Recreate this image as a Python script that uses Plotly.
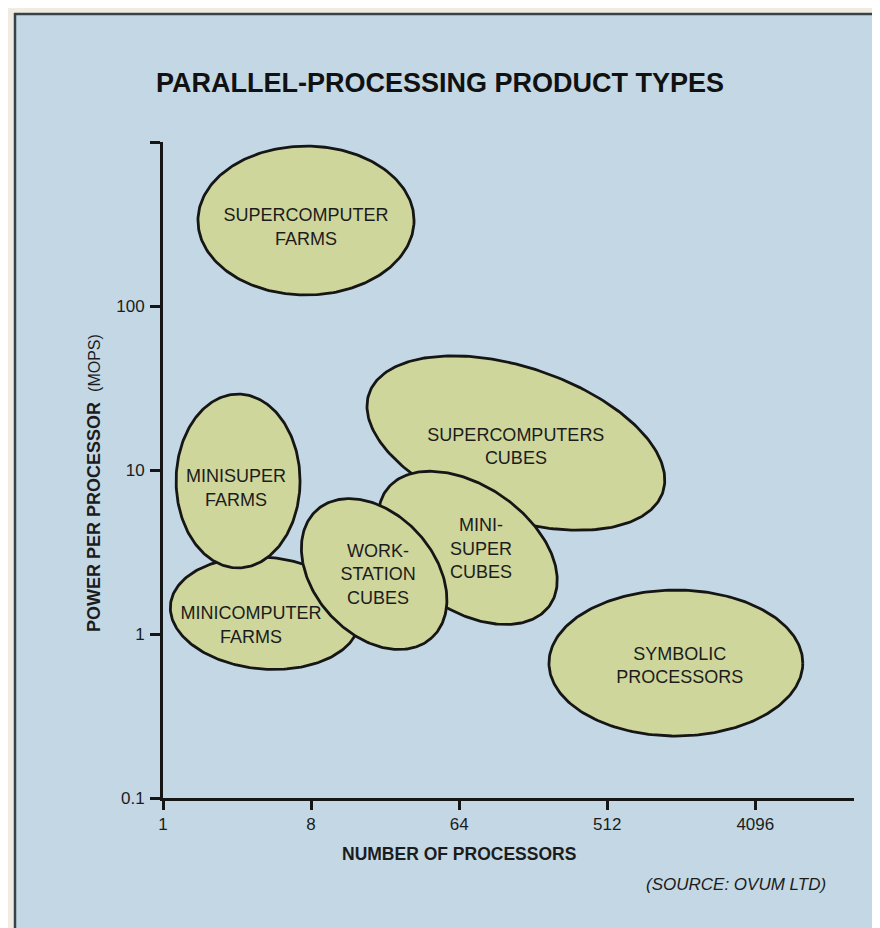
import numpy as np
import plotly.graph_objects as go

# product groups (drawn back to front)
names = ["SUPERCOMPUTER<br>FARMS", "SYMBOLIC<br>PROCESSORS", "SUPERCOMPUTERS<br>CUBES",
         "MINI-<br>SUPER<br>CUBES", "MINICOMPUTER<br>FARMS", "WORK-<br>STATION<br>CUBES",
         "MINISUPER<br>FARMS"]
# ellipse centres: number of processors, power per processor (MOPS)
center_procs = [7.45, 1343, 142, 72.4, 4.19, 19.4, 2.87]
center_mops = [332, 0.665, 14.6, 3.35, 1.34, 2.32, 8.57]
# semi-axes in decades (log10 units) and tilt in degrees
semi_a = [0.659, 0.774, 0.945, 0.61, 0.579, 0.524, 0.378]
semi_b = [0.454, 0.445, 0.463, 0.378, 0.341, 0.366, 0.53]
tilt = [0, 0, -18.5, -35, -5, -48, 0]
# label anchor points
label_procs = [7.45, 1420, 142, 86.9, 3.44, 20.5, 2.79]
label_mops = [297, 0.629, 13.6, 3.25, 1.11, 2.26, 7.6]

x_ticks = [1, 8, 64, 512, 4096]
y_ticks = [0.1, 1, 10, 100, 1000]
y_ticktext = ["0.1", "1", "10", "100", ""]

BG = "#c3d8e4"
FILL = "#ced69b"
INK = "#161616"
FONT = "Liberation Sans, Arial, sans-serif"

fig = go.Figure()

t = np.linspace(0, 2 * np.pi, 240)
for i in range(len(names)):
    th = np.radians(tilt[i])
    du = semi_a[i] * np.cos(t) * np.cos(th) - semi_b[i] * np.sin(t) * np.sin(th)
    dv = semi_a[i] * np.cos(t) * np.sin(th) + semi_b[i] * np.sin(t) * np.cos(th)
    fig.add_trace(go.Scatter(
        x=10 ** (np.log10(center_procs[i]) + du),
        y=10 ** (np.log10(center_mops[i]) + dv),
        mode="lines", fill="toself", fillcolor=FILL,
        line=dict(color=INK, width=2.8),
        hoverinfo="skip", showlegend=False
    ))

fig.add_trace(go.Scatter(
    x=label_procs, y=label_mops, text=names, mode="text",
    textfont=dict(size=18, color="#1c1c1c", family=FONT),
    hoverinfo="skip", showlegend=False
))

# plot area: x 155..846 px, y 134..790 px
L, R, T, B = 155, 34, 134, 138
PW, PH = 880 - L - R, 928 - T - B


def px(x):
    return (x - L) / PW


def py(y):
    return (928 - B - y) / PH


fig.update_layout(
    width=880, height=928,
    margin=dict(l=L, r=R, t=T, b=B),
    paper_bgcolor="#f1ebe1", plot_bgcolor="rgba(0,0,0,0)",
    font=dict(family=FONT, color="#1c1c1c"),
    title=dict(text="<b>PARALLEL-PROCESSING PRODUCT TYPES</b>",
               x=148 / 880, xanchor="left", xref="container",
               y=1 - 75 / 928, yanchor="middle", yref="container",
               font=dict(size=27, color="#111", family=FONT)),
)

fig.update_xaxes(
    type="log", range=[0, np.log10(16384)],
    tickvals=x_ticks, ticktext=[str(v) for v in x_ticks],
    showgrid=False, zeroline=False,
    showline=True, linecolor=INK, linewidth=3,
    ticks="outside", ticklen=9, tickwidth=3, tickcolor=INK,
    tickfont=dict(size=17, color="#1c1c1c")
)
fig.update_yaxes(
    type="log", range=[-1, 3],
    tickvals=y_ticks, ticktext=y_ticktext,
    showgrid=False, zeroline=False,
    showline=True, linecolor=INK, linewidth=3,
    ticks="outside", ticklen=10, tickwidth=3, tickcolor=INK,
    ticklabelstandoff=2,
    tickfont=dict(size=17, color="#1c1c1c")
)

# axis titles and source note
fig.add_annotation(text="<b>POWER PER PROCESSOR</b>  <span style='font-size:16px'>(MOPS)</span>",
                   xref="paper", yref="paper", x=px(86), y=py(475),
                   xanchor="center", yanchor="middle",
                   textangle=-90, showarrow=False,
                   font=dict(size=18, color="#1c1c1c"))
fig.add_annotation(text="<b>NUMBER OF PROCESSORS</b>",
                   xref="paper", yref="paper", x=px(451), y=py(846),
                   xanchor="center", yanchor="middle",
                   showarrow=False, font=dict(size=17.5, color="#1c1c1c"))
fig.add_annotation(text="<i>(SOURCE: OVUM LTD)</i>",
                   xref="paper", yref="paper", x=px(820), y=py(876),
                   xanchor="right", yanchor="middle",
                   showarrow=False, font=dict(size=17, color="#1c1c1c"))

# blue card with a dark edge on the top and left
fig.add_shape(type="rect", xref="paper", yref="paper", layer="below",
              x0=px(7), x1=px(882), y0=py(930), y1=py(6),
              fillcolor=BG, line=dict(width=0))
fig.add_shape(type="line", xref="paper", yref="paper",
              x0=px(6), x1=px(882), y0=py(6), y1=py(6),
              line=dict(color="#34434a", width=2.5))
fig.add_shape(type="line", xref="paper", yref="paper",
              x0=px(7), x1=px(7), y0=py(5), y1=py(930),
              line=dict(color="#34434a", width=2.5))

fig.write_html("out.html")
